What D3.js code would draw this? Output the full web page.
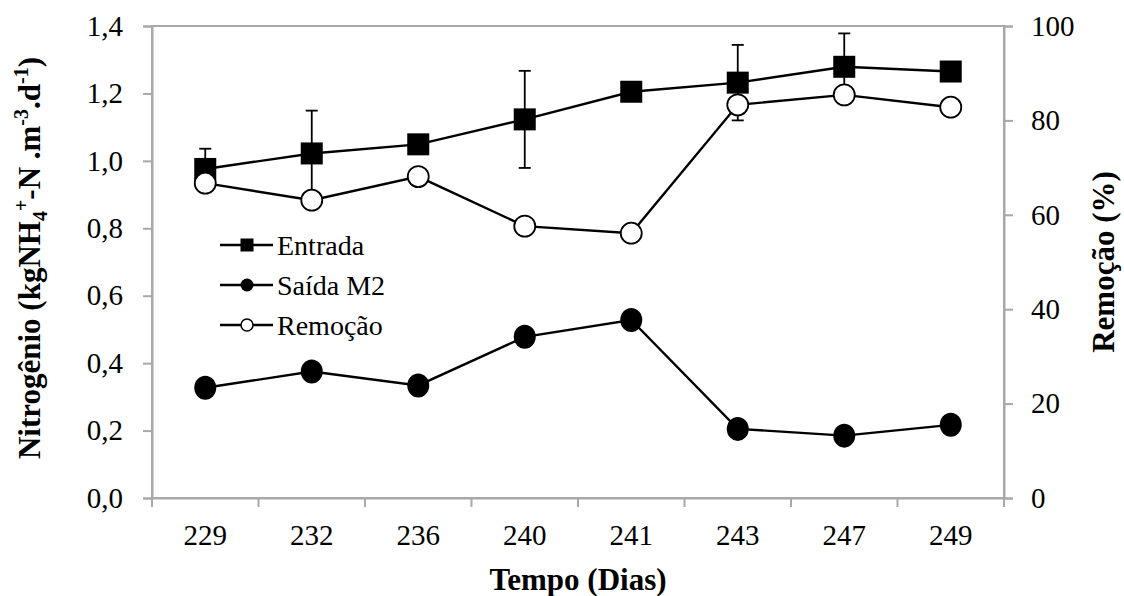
<!DOCTYPE html>
<html>
<head>
<meta charset="utf-8">
<script src="https://cdn.jsdelivr.net/npm/d3@7"></script>
<style>
  @font-face { font-family: "ChartSerif"; src: local("Liberation Serif"), local("LiberationSerif"); font-weight: normal; }
  @font-face { font-family: "ChartSerif"; src: local("Liberation Serif Bold"), local("LiberationSerif-Bold"); font-weight: bold; }
  html, body { margin: 0; padding: 0; background: #fff; font-family: "Liberation Serif", serif; }
  svg, svg text, svg tspan { font-family: "Liberation Serif", "ChartSerif", serif !important; }
</style>
</head>
<body>
<svg id="chart" width="1124" height="596" font-family="Liberation Serif"></svg>
<script>
// Days of operation
const dias = ["229", "232", "236", "240", "241", "243", "247", "249"];
// Ammonium load at the inlet (kgNH4+-N.m-3.d-1)
const entrada = [0.976, 1.022, 1.049, 1.123, 1.205, 1.232, 1.279, 1.265];
// Standard deviation of the inlet load (0 = no bar)
const entradaErro = [0.060, 0.127, 0, 0.144, 0, 0.112, 0.099, 0];
// Ammonium load at the outlet of M2
const saidaM2 = [0.327, 0.375, 0.334, 0.478, 0.528, 0.205, 0.185, 0.217];
// Removal efficiency (%)
const remocao = [66.7, 63.1, 68.1, 57.6, 56.1, 83.3, 85.4, 82.8];
// Axis ticks
const ticksEsq = [0, 0.2, 0.4, 0.6, 0.8, 1.0, 1.2, 1.4];
const ticksDir = [0, 20, 40, 60, 80, 100];
const legenda = ["Entrada", "Saída M2", "Remoção"];

const FONT = "Liberation Serif";
const svg = d3.select("#chart");
const L = 152, R = 1004, T = 26, B = 498;
const axisColor = "#a8a8a8";

const x = d3.scaleBand().domain(dias).range([L, R]).paddingInner(0).paddingOuter(0);
const cx = d => x(d) + x.bandwidth() / 2;
const yL = d3.scaleLinear().domain([0, 1.4]).range([B, T]);
const yR = d3.scaleLinear().domain([0, 100]).range([B, T]);

const ptBR = d3.formatLocale({ decimal: ",", thousands: ".", grouping: [3], currency: ["R$", ""] });
const fmt1 = ptBR.format(".1f");

// plot frame
svg.append("rect").attr("x", L).attr("y", T).attr("width", R - L).attr("height", B - T)
  .attr("fill", "none").attr("stroke", axisColor).attr("stroke-width", 2);

// left axis
const gL = svg.append("g").attr("transform", `translate(${L},0)`)
  .call(d3.axisLeft(yL).tickValues(ticksEsq).tickFormat(fmt1).tickSize(9).tickPadding(20));
// right axis
const gR = svg.append("g").attr("transform", `translate(${R},0)`)
  .call(d3.axisRight(yR).tickValues(ticksDir).tickFormat(d3.format("d")).tickSize(9).tickPadding(18));
// bottom axis: labels at band centres, ticks at band boundaries
const gB = svg.append("g").attr("transform", `translate(0,${B})`)
  .call(d3.axisBottom(x).tickSize(0).tickPadding(26));
gB.selectAll(".boundary").data(dias.map(d => x(d)).concat([x.range()[1]]))
  .enter().append("line").attr("class", "boundary")
  .attr("x1", d => d).attr("x2", d => d).attr("y1", 0).attr("y2", 9)
  .attr("stroke", axisColor).attr("stroke-width", 2);

[gL, gR, gB].forEach(g => {
  g.attr("font-family", FONT).attr("font-size", 29);
  g.select(".domain").attr("stroke", axisColor).attr("stroke-width", 2);
  g.selectAll(".tick line").attr("stroke", axisColor).attr("stroke-width", 2);
  g.selectAll(".tick text").attr("fill", "#000");
});
gB.selectAll(".tick text").attr("dy", "0.71em");

// axis titles
svg.append("text").attr("x", (L + R) / 2).attr("y", 590).attr("text-anchor", "middle")
  .style("font-size", "31px").style("font-weight", "bold").text("Tempo (Dias)");

svg.append("text").attr("transform", `translate(1114,${(T + B) / 2}) rotate(-90)`)
  .attr("text-anchor", "middle")
  .style("font-size", "31px").style("font-weight", "bold").text("Remoção (%)");

const tL = svg.append("text").attr("transform", `translate(40,${(T + B) / 2 - 4}) rotate(-90)`)
  .attr("text-anchor", "middle")
  .style("font-size", "31px").style("font-weight", "bold");
const parts = [
  { t: "Nitrogênio (kgNH" },
  { t: "4", s: "sub" },
  { t: "+", s: "sup" },
  { t: "-N .m" },
  { t: "-3", s: "sup" },
  { t: ".d" },
  { t: "-1", s: "sup" },
  { t: ")" }
];
let shift = 0;
parts.forEach(p => {
  const target = p.s === "sub" ? 7 : p.s === "sup" ? -12 : 0;
  const sp = tL.append("tspan").attr("dy", target - shift).text(p.t);
  if (p.s) sp.style("font-size", "20px");
  shift = target;
});

// line generators
const lineL = vals => d3.line().x((d, i) => cx(dias[i])).y(d => yL(d))(vals);
const lineR = vals => d3.line().x((d, i) => cx(dias[i])).y(d => yR(d))(vals);

// Entrada: error bars, line, squares
const eb = svg.append("g").attr("stroke", "#000").attr("stroke-width", 1.8);
dias.forEach((d, i) => {
  const e = entradaErro[i];
  if (!e) return;
  const xx = cx(d);
  eb.append("line").attr("x1", xx).attr("x2", xx).attr("y1", yL(entrada[i] - e)).attr("y2", yL(entrada[i] + e));
  [entrada[i] - e, entrada[i] + e].forEach(v =>
    eb.append("line").attr("x1", xx - 6).attr("x2", xx + 6).attr("y1", yL(v)).attr("y2", yL(v)));
});
svg.append("path").attr("d", lineL(entrada)).attr("fill", "none").attr("stroke", "#000").attr("stroke-width", 2.4);
svg.append("g").selectAll("rect").data(entrada).enter().append("rect")
  .attr("x", (d, i) => cx(dias[i]) - 11).attr("y", d => yL(d) - 11)
  .attr("width", 22).attr("height", 22).attr("fill", "#000");

// Saída M2
svg.append("path").attr("d", lineL(saidaM2)).attr("fill", "none").attr("stroke", "#000").attr("stroke-width", 2.4);
svg.append("g").selectAll("ellipse").data(saidaM2).enter().append("ellipse")
  .attr("cx", (d, i) => cx(dias[i])).attr("cy", d => yL(d)).attr("rx", 11).attr("ry", 12).attr("fill", "#000");

// Remoção
svg.append("path").attr("d", lineR(remocao)).attr("fill", "none").attr("stroke", "#000").attr("stroke-width", 2.4);
svg.append("g").selectAll("circle").data(remocao).enter().append("circle")
  .attr("cx", (d, i) => cx(dias[i])).attr("cy", d => yR(d)).attr("r", 10.5)
  .attr("fill", "#fff").attr("stroke", "#000").attr("stroke-width", 1.8);

// legend
const leg = svg.append("g");
legenda.forEach((name, i) => {
  const y = 245 + i * 40;
  leg.append("line").attr("x1", 220).attr("x2", 273).attr("y1", y).attr("y2", y).attr("stroke", "#000").attr("stroke-width", 2.4);
  if (i === 0) leg.append("rect").attr("x", 240.5).attr("y", y - 6.5).attr("width", 13).attr("height", 13).attr("fill", "#000");
  if (i === 1) leg.append("circle").attr("cx", 247).attr("cy", y).attr("r", 6.5).attr("fill", "#000");
  if (i === 2) leg.append("circle").attr("cx", 247).attr("cy", y).attr("r", 6).attr("fill", "#fff").attr("stroke", "#000").attr("stroke-width", 1.5);
  leg.append("text").attr("x", 277).attr("y", y).attr("dy", "0.35em")
    .style("font-size", "28px").text(name);
});
</script>
</body>
</html>
